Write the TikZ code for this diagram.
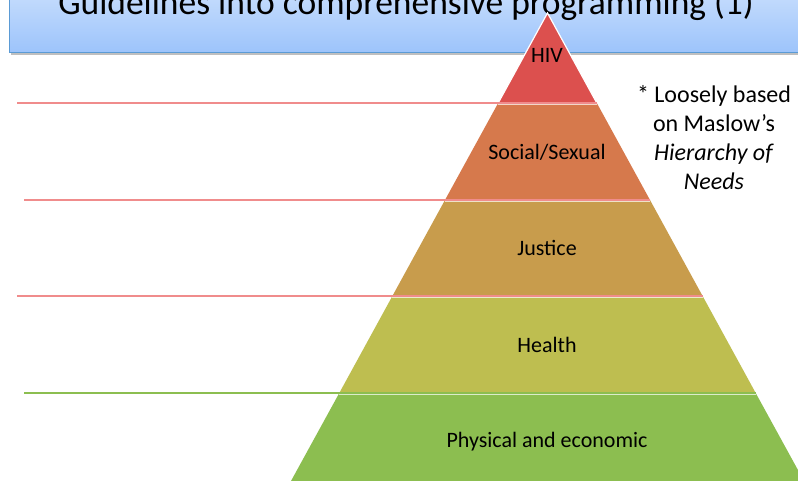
\documentclass[tikz,border=0pt]{standalone}
\usepackage{fontspec}
\setmainfont{Carlito}
\usetikzlibrary{shadows}
\definecolor{cHIV}{RGB}{220,80,78}
\definecolor{cSoc}{RGB}{214,121,76}
\definecolor{cJus}{RGB}{200,156,76}
\definecolor{cHea}{RGB}{190,190,80}
\definecolor{cPhy}{RGB}{140,190,80}
\definecolor{rline}{RGB}{240,140,140}
\definecolor{titletop}{RGB}{200,222,253}
\definecolor{titlebot}{RGB}{157,196,251}
\definecolor{titleedge}{RGB}{91,155,213}
\tikzset{
  layerlabel/.style={font=\fontsize{22}{26}\selectfont, anchor=base, inner sep=0pt},
  rule/.style={rline, line width=1.3pt},
  gap/.style={white, line width=1.2pt, opacity=0.7},
}
\begin{document}
\begin{tikzpicture}[x=1pt,y=-1pt]
\clip (0,0) rectangle (798,481);
\fill[white] (0,0) rectangle (798,481);
% title bar
\fill[black!25] (11,-12) rectangle (812,55);
\shade[top color=titletop, bottom color=titlebot] (9,-12) rectangle (810,52);
\draw[titleedge, line width=0.8pt] (9,-12) -- (9,52) -- (810,52);
\node[font=\fontsize{35.5}{40}\selectfont, anchor=base, inner sep=0pt] (title) at (406,15) {Guidelines into comprehensive programming (1)};
% pyramid layers
\coordinate (apex) at (547.5,13);
\fill[cHIV] (apex) -- (596.8,103) -- (498.2,103) -- cycle;
\fill[cSoc] (498.2,103) -- (596.8,103) -- (650,200) -- (445,200) -- cycle;
\fill[cJus] (445,200) -- (650,200) -- (702.6,296) -- (392.4,296) -- cycle;
\fill[cHea] (392.4,296) -- (702.6,296) -- (755.7,393) -- (339.3,393) -- cycle;
\fill[cPhy] (339.3,393) -- (755.7,393) -- (804,481) -- (291,481) -- cycle;
\draw[white, line width=1.2pt] (498.2,103) -- (apex) -- (596.8,103);
% rules
\draw[rule] (17,103) -- (596.8,103);
\draw[rule] (24,200) -- (650,200);
\draw[rule] (17,296) -- (702.6,296);
\draw[rule, cPhy] (24,393) -- (755.7,393);
\draw[gap] (498.2,104.5) -- (596.8,104.5);
\draw[gap] (445,201.5) -- (650,201.5);
\draw[gap] (392.4,297.5) -- (702.6,297.5);
\draw[gap] (339.3,394.5) -- (755.7,394.5);
% labels
\node[layerlabel] (hiv) at (547,63) {HIV};
\node[layerlabel] (soc) at (547,160) {Social/Sexual};
\node[layerlabel] (jus) at (547,255) {Justice};
\node[layerlabel] (hea) at (547,352) {Health};
\node[layerlabel] (phy) at (547,447) {Physical and economic};
% note
\node[font=\fontsize{24}{29}\selectfont, align=center, anchor=base, inner sep=0pt] (note) at (714,190) {* Loosely based\\on Maslow’s\\\textit{Hierarchy of}\\\textit{Needs}};
\end{tikzpicture}
\end{document}
